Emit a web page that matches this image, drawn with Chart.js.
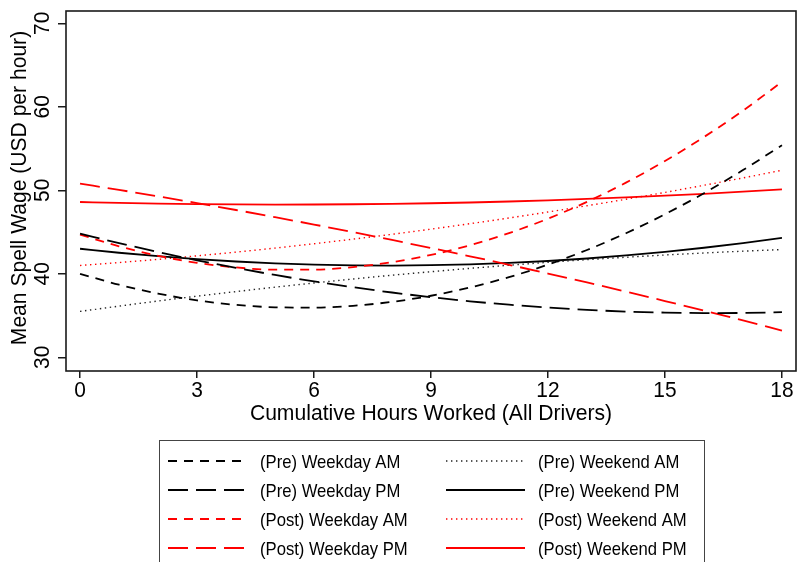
<!DOCTYPE html>
<html>
<head>
<meta charset="utf-8">
<script src="https://cdn.jsdelivr.net/npm/chart.js@4.4.1/dist/chart.umd.min.js"></script>
<style>
  html, body { margin: 0; padding: 0; background: #fff; }
</style>
</head>
<body>
<canvas id="wageChart" width="799" height="562"></canvas>
<script>
// hours on the x axis
const hours = [0, 1, 2, 3, 4, 5, 6, 7, 8, 9, 10, 11, 12, 13, 14, 15, 16, 17, 18];

// mean spell wage per series
const preWeekdayAM = [40.0, 38.69, 37.63, 36.82, 36.28, 35.99, 35.95, 36.17, 36.64, 37.37, 38.36, 39.60, 41.10, 42.85, 44.86, 47.13, 49.65, 52.42, 55.40];
const preWeekdayPM = [44.8, 43.67, 42.61, 41.62, 40.71, 39.86, 39.09, 38.39, 37.76, 37.20, 36.71, 36.30, 35.95, 35.68, 35.48, 35.36, 35.30, 35.31, 35.40];
const postWeekdayAM = [44.7, 43.29, 42.16, 41.31, 40.76, 40.49, 40.50, 40.80, 41.39, 42.26, 43.42, 44.87, 46.60, 48.61, 50.92, 53.51, 56.38, 59.54, 62.99];
const postWeekdayPM = [50.8, 50.05, 49.27, 48.47, 47.64, 46.78, 45.90, 44.99, 44.05, 43.09, 42.10, 41.08, 40.03, 38.96, 37.86, 36.74, 35.59, 34.41, 33.20];
const preWeekendAM = [35.5, 36.13, 36.74, 37.32, 37.87, 38.40, 38.90, 39.38, 39.83, 40.25, 40.65, 41.02, 41.37, 41.69, 41.98, 42.25, 42.49, 42.71, 42.90];
const preWeekendPM = [43.0, 42.52, 42.11, 41.76, 41.47, 41.26, 41.10, 41.01, 40.99, 41.03, 41.13, 41.30, 41.53, 41.83, 42.20, 42.63, 43.12, 43.68, 44.30];
const postWeekendAM = [41.0, 41.35, 41.73, 42.15, 42.60, 43.08, 43.60, 44.15, 44.73, 45.35, 46.00, 46.68, 47.40, 48.15, 48.93, 49.75, 50.60, 51.48, 52.40];
const postWeekendPM = [48.6, 48.49, 48.41, 48.35, 48.31, 48.29, 48.30, 48.33, 48.38, 48.45, 48.54, 48.66, 48.80, 48.96, 49.14, 49.35, 49.58, 49.83, 50.10];

const xTicks = [0, 3, 6, 9, 12, 15, 18];
const yTicks = [30, 40, 50, 60, 70];
const xTitle = "Cumulative Hours Worked (All Drivers)";
const yTitle = "Mean Spell Wage (USD per hour)";

const FONT = '"Liberation Sans", Arial, sans-serif';
const RED = "#ff0000";
const BLACK = "#000000";

function series(label, values, color, dash, width) {
  return {
    label,
    data: hours.map((h, i) => ({ x: h, y: values[i] })),
    borderColor: color,
    borderDash: dash,
    borderWidth: width,
    pointRadius: 0,
    cubicInterpolationMode: "monotone",
    fill: false
  };
}

const shortDash = [9, 7];
const longDash = [20, 8];
const dots = [1.4, 3.6];

// legend order: first column then second column
const datasets = [
  series("(Pre) Weekday AM", preWeekdayAM, BLACK, shortDash, 1.8),
  series("(Pre) Weekday PM", preWeekdayPM, BLACK, longDash, 1.8),
  series("(Post) Weekday AM", postWeekdayAM, RED, shortDash, 1.8),
  series("(Post) Weekday PM", postWeekdayPM, RED, longDash, 1.8),
  series("(Pre) Weekend AM", preWeekendAM, "#222222", dots, 1.4),
  series("(Pre) Weekend PM", preWeekendPM, BLACK, [], 1.8),
  series("(Post) Weekend AM", postWeekendAM, RED, dots, 1.4),
  series("(Post) Weekend PM", postWeekendPM, RED, [], 1.8)
];

// slightly narrow text, squeezed along its own direction
function squeezedText(ctx, text, x, y, size, sx, rot, align) {
  ctx.save();
  ctx.translate(x, y);
  ctx.rotate(rot);
  ctx.scale(sx, 1);
  ctx.font = size + "px " + FONT;
  ctx.textAlign = align;
  ctx.textBaseline = "alphabetic";
  ctx.fillStyle = "#000";
  ctx.fillText(text, 0, 0);
  ctx.restore();
}

// box round the plot, axis texts and the boxed legend
const framePlugin = {
  id: "framePlugin",
  afterDraw(chart) {
    const { ctx, chartArea: a, scales } = chart;
    ctx.save();
    ctx.strokeStyle = "#1a1a1a";
    ctx.lineWidth = 1.6;
    ctx.setLineDash([]);
    ctx.strokeRect(a.left, a.top, a.right - a.left, a.bottom - a.top);

    scales.x.ticks.forEach(t => {
      squeezedText(ctx, String(t.value), scales.x.getPixelForValue(t.value), 397, 22, 0.95, 0, "center");
    });
    scales.y.ticks.forEach(t => {
      squeezedText(ctx, String(t.value), 48.5, scales.y.getPixelForValue(t.value), 22, 0.95, -Math.PI / 2, "center");
    });
    squeezedText(ctx, xTitle, (a.left + a.right) / 2, 420, 22, 0.96, 0, "center");
    squeezedText(ctx, yTitle, 26, 188, 22, 0.958, -Math.PI / 2, "center");

    // legend
    ctx.strokeStyle = "#444";
    ctx.lineWidth = 1;
    ctx.strokeRect(159.5, 440.5, 545, 130);
    const rowY = [461, 490, 519, 548];
    const colX = [168, 446];
    chart.data.datasets.forEach((ds, i) => {
      const x = colX[Math.floor(i / 4)];
      const y = rowY[i % 4];
      ctx.strokeStyle = ds.borderColor;
      ctx.lineWidth = ds.borderWidth;
      ctx.setLineDash(ds.borderDash);
      ctx.beginPath();
      ctx.moveTo(x, y);
      ctx.lineTo(x + 79, y);
      ctx.stroke();
      ctx.setLineDash([]);
      squeezedText(ctx, ds.label, x + 92, y + 6.8, 18.5, 0.9, 0, "left");
    });
    ctx.restore();
  }
};

new Chart(document.getElementById("wageChart"), {
  type: "line",
  data: { datasets },
  options: {
    responsive: false,
    animation: false,
    devicePixelRatio: 1,
    layout: { padding: { top: 11, right: 3, bottom: 135, left: 0 } },
    plugins: { legend: { display: false }, tooltip: { enabled: false } },
    scales: {
      x: {
        type: "linear",
        min: -0.36,
        max: 18.36,
        afterBuildTicks: s => { s.ticks = xTicks.map(v => ({ value: v })); },
        afterFit: s => { s.height = 56; },
        border: { display: false },
        grid: { drawOnChartArea: false, drawTicks: true, tickLength: 7, color: "#1a1a1a", lineWidth: 1.5 },
        ticks: { display: false }
      },
      y: {
        type: "linear",
        min: 28.36,
        max: 71.47,
        afterBuildTicks: s => { s.ticks = yTicks.map(v => ({ value: v })); },
        afterFit: s => { s.width = 66; },
        border: { display: false },
        grid: { drawOnChartArea: false, drawTicks: true, tickLength: 8, color: "#1a1a1a", lineWidth: 1.5 },
        ticks: { display: false }
      }
    }
  },
  plugins: [framePlugin]
});
</script>
</body>
</html>
